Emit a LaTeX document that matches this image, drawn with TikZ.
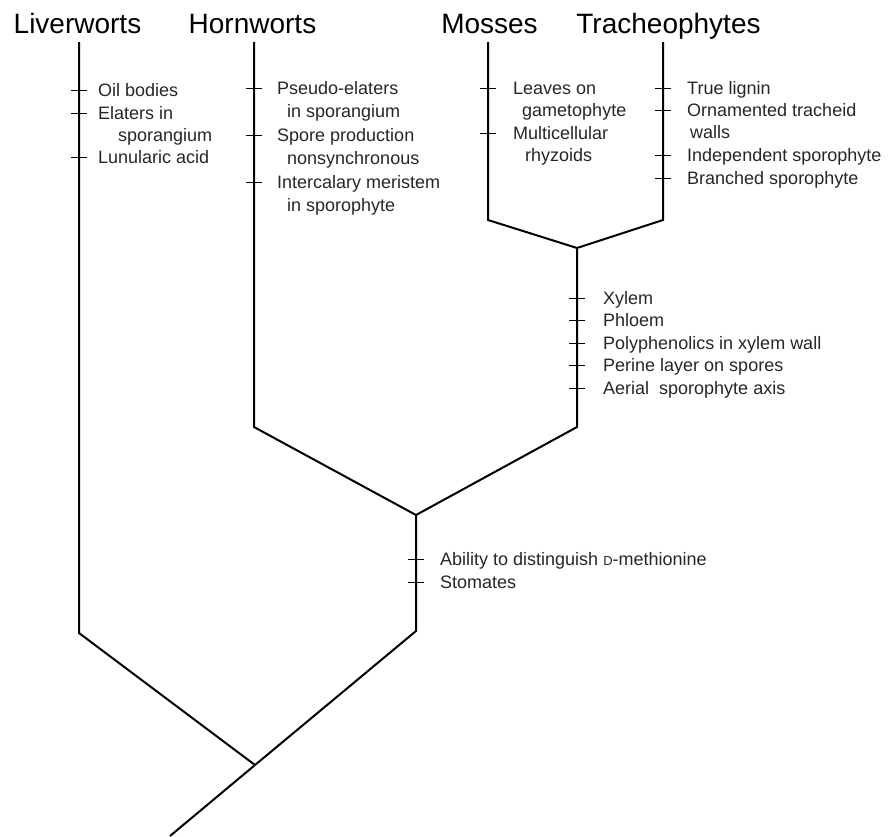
\documentclass[tikz,border=0pt]{standalone}
\usepackage{fontspec}
\setmainfont{Liberation Sans}
\begin{document}
\begin{tikzpicture}[x=1pt,y=-1pt,
  branch/.style={line width=2pt, line join=miter, line cap=butt},
  tickmark/.style={line width=0.9pt},
  taxon/.style={font=\fontsize{28}{28}\selectfont, anchor=base, inner sep=0pt},
  feat/.style={font=\fontsize{18}{18}\selectfont, anchor=base west, inner sep=0pt, text=black!85}]
\useasboundingbox (0,0) rectangle (890,836);

% taxa
\node[taxon] (liv) at (77.5,33) {Liverworts};
\node[taxon] (horn) at (252.5,33) {Hornworts};
\node[taxon] (moss) at (489.5,33) {Mosses};
\node[taxon] (trach) at (668.5,33) {Tracheophytes};

% branch points
\coordinate (livtop) at (79,42);
\coordinate (livbot) at (79,633);
\coordinate (horntop) at (254,42);
\coordinate (hornbot) at (254,427);
\coordinate (mosstop) at (488,42);
\coordinate (mossbot) at (488,220);
\coordinate (trachtop) at (663,42);
\coordinate (trachbot) at (663,220);
\coordinate (j3) at (577,248);
\coordinate (j3bot) at (577,427);
\coordinate (j2) at (416,515);
\coordinate (j2bot) at (416,631);
\coordinate (j1) at (255,765);
\coordinate (root) at (170,836);

% branches
\draw[branch] (livtop) -- (livbot) -- (j1);
\draw[branch] (horntop) -- (hornbot) -- (j2);
\draw[branch] (mosstop) -- (mossbot) -- (j3);
\draw[branch] (trachtop) -- (trachbot) -- (j3);
\draw[branch] (j3) -- (j3bot) -- (j2);
\draw[branch] (j2) -- (j2bot) -- (j1);
\draw[branch] (j1) -- (root);

% ticks
\foreach \n/\x/\y in {a1/79/90, a2/79/113, a3/79/157,
                      b1/254/88, b2/254/135, b3/254/182,
                      c1/488/88, c2/488/133,
                      d1/663/88, d2/663/110, d3/663/155, d4/663/178,
                      e1/577/298, e2/577/320.5, e3/577/343, e4/577/365.5, e5/577/388,
                      g1/416/559, g2/416/582}{
  \coordinate (\n) at (\x,\y);
  \draw[tickmark] ([xshift=-8pt]\n) -- ([xshift=8pt]\n);
}

% Liverworts features
\node[feat] (fa1) at (98,96) {Oil bodies};
\node[feat] (fa2) at (98,119) {Elaters in};
\node[feat] (fa2b) at (118,141) {sporangium};
\node[feat] (fa3) at (98,163) {Lunularic acid};

% Hornworts features
\node[feat] (fb1) at (277,94) {Pseudo-elaters};
\node[feat] (fb1b) at (287,117.5) {in sporangium};
\node[feat] (fb2) at (277,141) {Spore production};
\node[feat] (fb2b) at (287,164.5) {nonsynchronous};
\node[feat] (fb3) at (277,188) {Intercalary meristem};
\node[feat] (fb3b) at (287,211.5) {in sporophyte};

% Mosses features
\node[feat] (fc1) at (513,94) {Leaves on};
\node[feat] (fc1b) at (522,116.5) {gametophyte};
\node[feat] (fc2) at (513,139) {Multicellular};
\node[feat] (fc2b) at (525,161.5) {rhyzoids};

% Tracheophytes features
\node[feat] (fd1) at (687,94) {True lignin};
\node[feat] (fd2) at (687,116) {Ornamented tracheid};
\node[feat] (fd2b) at (690,138.5) {walls};
\node[feat] (fd3) at (687,161) {Independent sporophyte};
\node[feat] (fd4) at (687,184) {Branched sporophyte};

% Mosses + Tracheophytes
\node[feat] (fe1) at (603,304) {Xylem};
\node[feat] (fe2) at (603,326.5) {Phloem};
\node[feat] (fe3) at (603,349) {Polyphenolics in xylem wall};
\node[feat] (fe4) at (603,371.5) {Perine layer on spores};
\node[feat] (fe5) at (603,394) {Aerial\ \ sporophyte axis};

% Hornworts + rest
\node[feat] (fg1) at (440,565) {Ability to distinguish {\fontsize{13}{13}\selectfont D}-methionine};
\node[feat] (fg2) at (440,588) {Stomates};
\end{tikzpicture}
\end{document}
